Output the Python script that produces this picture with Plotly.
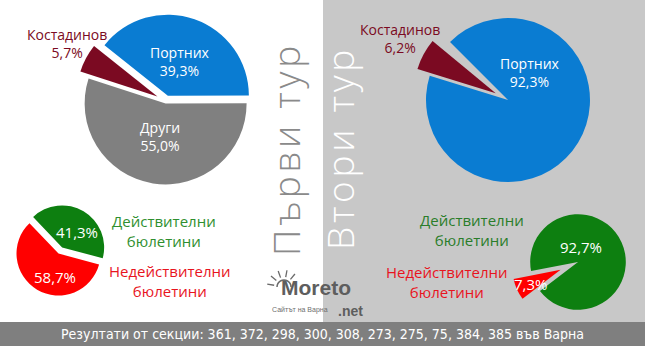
import math
import plotly.graph_objects as go

W, H = 645, 346

# ---- data ----
round1_names = ["Портних", "Други", "Костадинов"]
round1_values = [39.3, 55.0, 5.7]
round2_names = ["Портних", "Костадинов", "Други"]
round2_values = [92.3, 6.2, 1.5]
ballot_names = ["Действителни<br>бюлетини", "Недействителни<br>бюлетини"]
ballots_round1 = [41.3, 58.7]
ballots_round2 = [92.7, 7.3]
round_titles = ["Първи тур", "Втори тур"]
footer_text = "Резултати от секции: 361, 372, 298, 300, 308, 273, 275, 75, 384, 385 във Варна"

BLUE = "#0a7cd2"
GRAY = "#808080"
DARKRED = "#7b0a22"
GREEN = "#0d7f10"
RED = "#ff0000"
PANEL = "#c8c8c8"
BAND = "#7f7f7f"
FONT = "Open Sans, Noto Sans, sans-serif"


def fmt(v):
    return f"{v:.1f}".replace(".", ",") + "%"


def spaced(s):
    return "\u200a".join(list(s))


def dom(cx, cy, r, maxpull):
    h = r * (1 + maxpull)
    return dict(x=[max(0, (cx - h) / W), min(1, (cx + h) / W)],
                y=[max(0, 1 - (cy + h) / H), min(1, 1 - (cy - h) / H)])


fig = go.Figure()

# Round 1 candidates
fig.add_trace(go.Pie(
    labels=round1_names, values=round1_values, sort=False,
    direction="clockwise", rotation=-51.5,
    marker=dict(colors=[BLUE, GRAY, DARKRED], line=dict(width=0)),
    pull=[0.07, 0.03, 0.12], textinfo="none", hoverinfo="skip",
    domain=dom(166, 101, 81, 0.12), showlegend=False))

# Round 2 candidates
fig.add_trace(go.Pie(
    labels=round2_names, values=round2_values, sort=False,
    direction="clockwise", rotation=-45,
    marker=dict(colors=[BLUE, DARKRED, "rgba(0,0,0,0)"], line=dict(width=0)),
    pull=[0, 0.17, 0], textinfo="none", hoverinfo="skip",
    domain=dom(508, 100, 82, 0.17), showlegend=False))

# Round 1 ballots
fig.add_trace(go.Pie(
    labels=ballot_names, values=ballots_round1, sort=False,
    direction="clockwise", rotation=-43.7,
    marker=dict(colors=[GREEN, RED], line=dict(width=0)),
    pull=[0.1, 0.07], textinfo="none", hoverinfo="skip",
    domain=dom(60, 251, 42, 0.1), showlegend=False))

# Round 2 ballots
fig.add_trace(go.Pie(
    labels=ballot_names, values=ballots_round2, sort=False,
    direction="clockwise", rotation=-101,
    marker=dict(colors=[GREEN, RED], line=dict(width=0)),
    pull=[0, 0.4], textinfo="none", hoverinfo="skip",
    domain=dom(578, 262, 47.8, 0.4), showlegend=False))


def px(x, y):
    return x / W, 1 - y / H


shapes = [
    dict(type="rect", xref="paper", yref="paper", x0=323 / W, x1=1,
         y0=(H - 322) / H, y1=1, fillcolor=PANEL, line=dict(width=0), layer="below"),
    dict(type="rect", xref="paper", yref="paper", x0=0, x1=1,
         y0=0, y1=(H - 322) / H, fillcolor=BAND, line=dict(width=0), layer="below"),
]

# logo sun (decorative)
scx, scy, sr = 284, 287, 7
arc = []
for k in range(0, 181, 15):
    a = math.radians(k)
    x, y = px(scx + sr * math.cos(a), scy - sr * math.sin(a))
    arc.append(f"{x:.5f},{y:.5f}")
shapes.append(dict(type="path", xref="paper", yref="paper",
                   path="M " + " L ".join(arc), line=dict(color="#6a6a6a", width=1.5)))
for deg in [170, 140, 110, 80, 50]:
    a = math.radians(deg)
    x0, y0 = px(scx + (sr + 3) * math.cos(a), scy - (sr + 3) * math.sin(a))
    x1, y1 = px(scx + (sr + 10) * math.cos(a), scy - (sr + 10) * math.sin(a))
    shapes.append(dict(type="line", xref="paper", yref="paper", x0=x0, y0=y0,
                       x1=x1, y1=y1, line=dict(color="#6a6a6a", width=1.3)))

ann = []


def txt(x, y, text, color, size, **kw):
    fam = kw.pop("family", FONT)
    fnt = dict(family=fam, size=size, color=color)
    if "weight" in kw:
        fnt["weight"] = kw.pop("weight")
    ann.append(dict(x=x / W, y=1 - y / H, xref="paper", yref="paper",
                    text=text, showarrow=False, xanchor="center", yanchor="middle",
                    font=fnt, **kw))


# Round 1 labels
txt(67, 43, f"{round1_names[2]}<br>{fmt(round1_values[2])}", DARKRED, 14)
txt(180, 62, f"{round1_names[0]}<br>{fmt(round1_values[0])}", "white", 14)
txt(160, 137, f"{round1_names[1]}<br>{fmt(round1_values[1])}", "white", 14)

# Round 2 labels
txt(400, 38, f"{round2_names[1]}<br>{fmt(round2_values[1])}", DARKRED, 14)
txt(530, 72, f"{round2_names[0]}<br>{fmt(round2_values[0])}", "white", 14)

# Ballots round 1
txt(77, 232, fmt(ballots_round1[0]), "white", 15)
txt(55, 277, fmt(ballots_round1[1]), "white", 15)
txt(164, 231, ballot_names[0], "#2f8f2f", 15)
txt(170, 281, ballot_names[1], "#e8141e", 15)

# Ballots round 2
txt(581, 247, fmt(ballots_round2[0]), "white", 15)
txt(530, 284, fmt(ballots_round2[1]), "white", 15)
txt(472, 230, ballot_names[0], "#2a7d2a", 15)
txt(447, 282, ballot_names[1], "#e8141e", 15)

# Round titles (vertical)
txt(285, 151, spaced(round_titles[0]), "#8a8a8a", 37, textangle=-90, weight=300)
txt(340, 150, spaced(round_titles[1]), "white", 37, textangle=-90, weight=300)

# Logo (approximation)
txt(316, 287, "Moreto", "#5e5e5e", 21, weight=900, family="Arial, Liberation Sans")
txt(350, 311, ".net", "#5e5e5e", 14, weight=900, family="Arial, Liberation Sans")
txt(300, 310, "Сайтът на Варна", "#6e6e6e", 7, family="Arial, Liberation Sans")

# Footer
txt(322, 334, footer_text, "white", 14,
    family="Liberation Sans Narrow, DejaVu Sans Condensed, Roboto, sans-serif")

fig.update_layout(width=W, height=H, autosize=False,
                  margin=dict(l=0, r=0, t=0, b=0),
                  paper_bgcolor="white", plot_bgcolor="white",
                  shapes=shapes, annotations=ann)

fig.write_html("out.html", config={"displayModeBar": False})
